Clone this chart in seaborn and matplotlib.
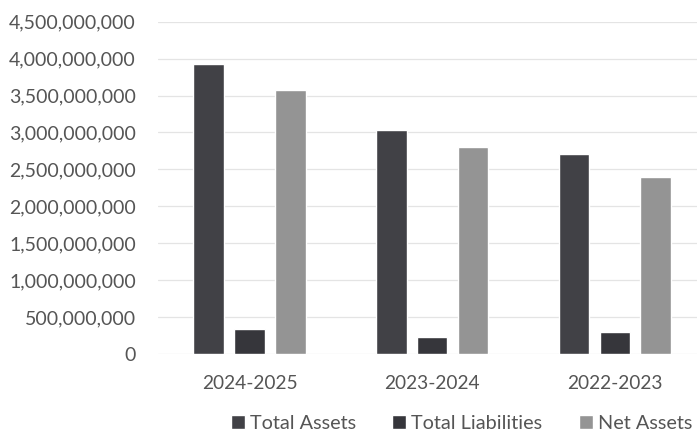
import matplotlib
matplotlib.use("Agg")
import matplotlib.pyplot as plt
import matplotlib.ticker as mticker
import seaborn as sns
import pandas as pd

years = ["2024-2025", "2023-2024", "2022-2023"]
total_assets = [3_930_000_000, 3_040_000_000, 2_710_000_000]
total_liabilities = [340_000_000, 230_000_000, 300_000_000]
net_assets = [3_570_000_000, 2_800_000_000, 2_400_000_000]
series_names = ["Total Assets", "Total Liabilities", "Net Assets"]
colors = ["#414146", "#36363b", "#949494"]

df = pd.DataFrame({
    "Year": years * 3,
    "Series": [s for s in series_names for _ in years],
    "Value": total_assets + total_liabilities + net_assets,
})

sns.set_theme(style="white")
plt.rcParams["font.family"] = ["Lato", "DejaVu Sans"]

fig = plt.figure(figsize=(6.97, 4.32), dpi=100)
ax = fig.add_axes([0.227, 0.18, 0.773, 0.77])

sns.barplot(data=df, x="Year", y="Value", hue="Series", order=years,
            hue_order=series_names, palette=colors, width=0.67, gap=0.25,
            saturation=1, ax=ax, legend=True)

ax.set_ylim(0, 4_500_000_000)
ax.set_xlim(-0.5, 2.45)
ax.yaxis.set_major_locator(mticker.MultipleLocator(500_000_000))
ax.yaxis.set_major_formatter(mticker.FuncFormatter(lambda v, p: f"{int(v):,}"))
ax.grid(axis="y", color="#e4e4e4", linewidth=0.9)
ax.set_axisbelow(True)
for sp in ax.spines.values():
    sp.set_visible(False)
ax.set_xlabel("")
ax.set_ylabel("")
ax.tick_params(axis="y", labelsize=14, colors="#555555", length=0, pad=16)
ax.tick_params(axis="x", labelsize=13.8, colors="#555555", length=0, pad=15)

handles, labels = ax.get_legend_handles_labels()
ax.legend(handles, labels, loc="center", bbox_to_anchor=(0.563, -0.207),
          ncol=3, frameon=False, fontsize=14.3, handlelength=0.7, handleheight=0.7,
          handletextpad=0.25, columnspacing=1.85, labelcolor="#555555")

fig.savefig("out.png", dpi=100, facecolor="white")
